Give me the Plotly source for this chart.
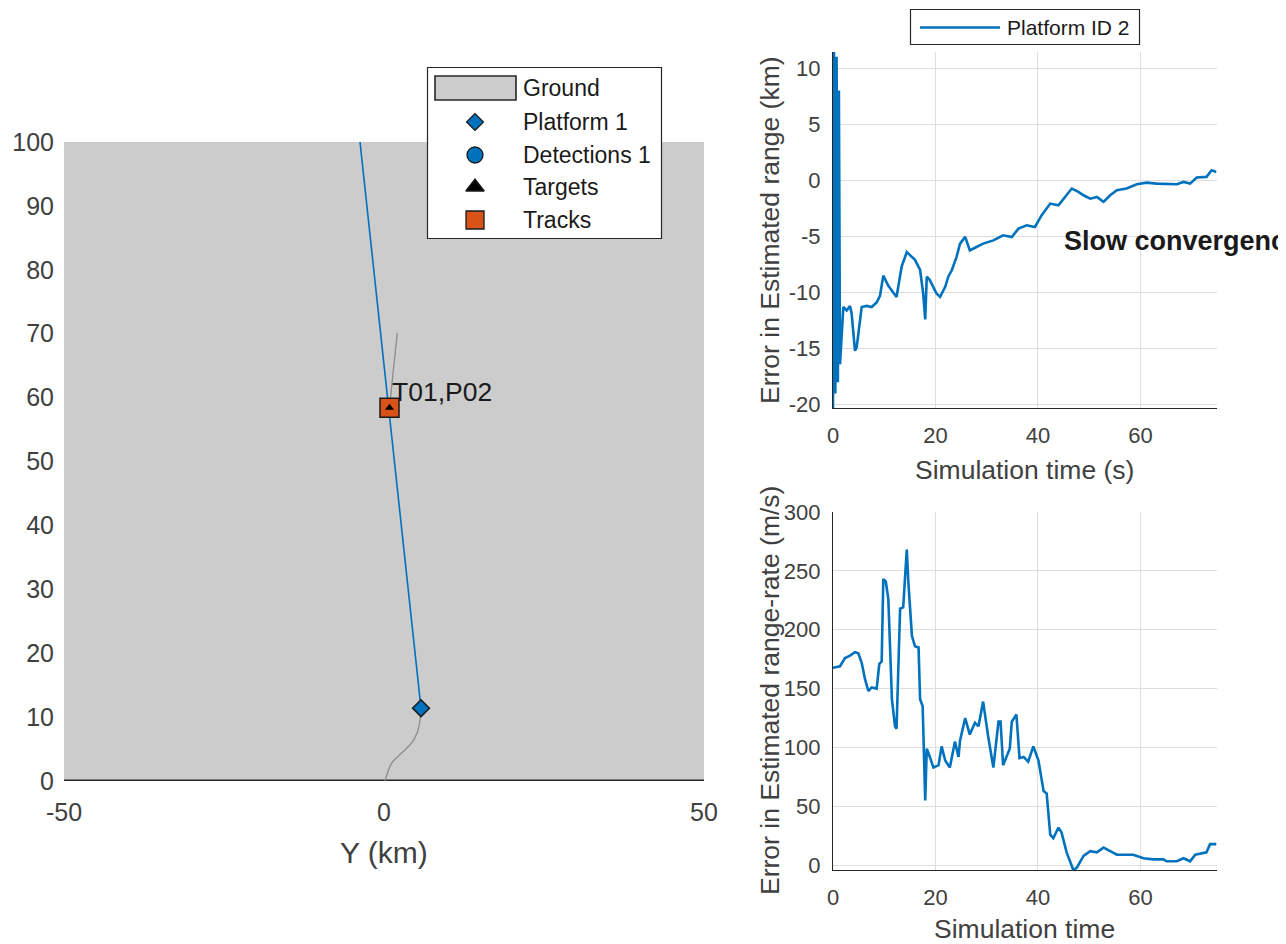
import plotly.graph_objects as go

# ---------------- Left panel: scenario view (km) ----------------
ground_x = [-50, 50, 50, -50, -50]
ground_y = [0, 0, 100, 100, 0]
ground_line_x = [-50, 50]
ground_line_y = [0, 0]
platform_trail_x = [0.16, 1.2, 2.76, 4.33, 5.16, 5.63, 5.78]
platform_trail_y = [0.0, 2.8, 4.38, 5.95, 7.5, 9.55, 11.4]
platform_x = [5.78]
platform_y = [11.4]
ray_x = [5.78, -3.75]
ray_y = [11.4, 100.0]
target_trail_x = [0.86, 1.46, 2.08]
target_trail_y = [58.4, 64.3, 70.1]
target_x = [0.86]
target_y = [58.4]
track_x = [0.86]
track_y = [58.4]
track_label = "T01,P02"
left_xticks = [-50, 0, 50]
left_yticks = [0, 10, 20, 30, 40, 50, 60, 70, 80, 90, 100]

# ---------------- Right top: error in estimated range (km) ----------------
t_range = [0, 0.2, 0.45, 0.7, 0.95, 1.15, 1.37, 2.02, 2.67, 3.32, 3.64, 4.29, 4.62, 5.6, 6.57,
           7.55, 8.52, 9.17, 9.82, 10.8, 12.4, 13.4, 14.4, 16.0, 17.0, 17.6, 18.0, 18.3, 18.9,
           20.2, 20.9, 21.9, 22.5, 23.2, 24.1, 24.8, 25.8, 26.7, 28.0, 29.3, 31.3, 33.2, 34.9,
           36.2, 37.8, 39.4, 40.7, 42.4, 44.0, 45.0, 46.6, 47.9, 48.9, 50.2, 51.5, 52.8, 54.1,
           55.4, 57.3, 59.3, 61.2, 63.2, 65.1, 67.1, 68.4, 69.7, 71.0, 72.9, 73.9, 74.85]
err_range = [-20.3, 11.43, -19.0, 11.0, -18.0, 8.0, -16.4, -11.3, -11.6, -11.2, -11.9, -15.2, -14.9,
             -11.3, -11.2, -11.3, -10.9, -10.3, -8.5, -9.4, -10.4, -7.7, -6.4, -7.1, -8.0, -10.1,
             -12.4, -8.6, -8.9, -10.1, -10.4, -9.5, -8.6, -8.0, -6.85, -5.65, -5.05, -6.25, -5.95,
             -5.65, -5.36, -4.91, -5.06, -4.31, -4.02, -4.17, -3.13, -2.08, -2.23, -1.64, -0.74,
             -1.04, -1.34, -1.64, -1.49, -1.93, -1.34, -0.89, -0.74, -0.36, -0.21, -0.30, -0.30,
             -0.36, -0.15, -0.30, 0.24, 0.30, 0.89, 0.74]
range_yticks = [-20, -15, -10, -5, 0, 5, 10]

# ---------------- Right bottom: error in estimated range-rate (m/s) ----------------
t_rate = [0, 1.37, 2.34, 3.32, 4.29, 4.94, 5.6, 6.25, 6.9, 7.55, 8.52, 9.04, 9.5, 9.82, 10.3,
          10.8, 11.5, 12.1, 12.4, 13.1, 13.7, 14.4, 14.7, 15.4, 16.0, 16.7, 17.0, 17.5, 18.0,
          18.3, 18.9, 19.6, 20.6, 21.2, 21.9, 22.8, 23.8, 24.5, 24.8, 25.8, 26.7, 27.7, 28.4,
          29.3, 30.3, 31.3, 32.3, 32.7, 33.2, 34.5, 34.9, 35.8, 36.4, 37.2, 38.1, 39.1, 40.1,
          41.1, 41.7, 42.4, 43.0, 44.0, 44.6, 45.6, 46.9, 47.6, 48.9, 50.2, 51.5, 52.8, 54.1,
          55.4, 57.3, 58.6, 60.6, 62.5, 64.5, 65.1, 67.1, 68.4, 69.7, 70.7, 72.9, 73.6, 74.85]
err_rate = [167.7, 169, 176, 178, 181, 180, 172, 158, 148, 151, 150, 171, 173, 243, 241, 226, 141,
            118, 116, 218, 219, 268, 241, 195, 186, 185, 141, 135, 55, 99, 92, 83, 85, 101, 89,
            83, 105, 92, 106, 125, 111, 121, 118, 139, 109, 83, 122, 122, 85, 99, 122, 128, 91,
            92, 88, 101, 89, 63, 61, 26, 23, 32, 28, 11, -4, -2, 8, 12, 11, 15, 12, 9, 9, 9, 6,
            5, 5, 3.4, 3.4, 6, 3.4, 9, 11, 18, 18]
rate_yticks = [0, 50, 100, 150, 200, 250, 300]
rate_ymax = 300
time_xticks = [0, 20, 40, 60]

# legend entries
left_legend_names = ["Ground", "Platform 1", "Detections 1", "Targets", "Tracks"]
right_legend_name = "Platform ID 2"

# ---------------- styling ----------------
W, H = 1286, 944
OFF = 8  # page body margin offset (figure drawn at 8,8 in the window)
FONT = "Liberation Sans, Arial, Helvetica, sans-serif"
TXT = "#404040"
BLUE = "#0072BD"
ORANGE = "#D95319"
GRID = "#dedede"
AX = "#262626"
CLEAR = "rgba(0,0,0,0)"


def px_x(p):
    return (p - OFF) / W


def px_y(p):
    return 1 - (p - OFF) / H


def labels(vals):
    return [str(v) for v in vals]


fig = go.Figure()

# Left panel
fig.add_trace(go.Scatter(x=ground_x, y=ground_y, fill="toself", fillcolor="#CCCCCC",
                         line=dict(width=0, color="#CCCCCC"), mode="lines",
                         hoverinfo="skip", showlegend=False, xaxis="x", yaxis="y"))
fig.add_trace(go.Scatter(x=ground_line_x, y=ground_line_y, mode="lines",
                         line=dict(color=AX, width=3), hoverinfo="skip", showlegend=False,
                         xaxis="x", yaxis="y"))
fig.add_trace(go.Scatter(x=platform_trail_x, y=platform_trail_y, mode="lines",
                         line=dict(color="#8c8c8c", width=1.3, shape="spline"),
                         showlegend=False, xaxis="x", yaxis="y"))
fig.add_trace(go.Scatter(x=target_trail_x, y=target_trail_y, mode="lines",
                         line=dict(color="#8c8c8c", width=1.3, shape="spline"),
                         showlegend=False, xaxis="x", yaxis="y"))
fig.add_trace(go.Scatter(x=ray_x, y=ray_y, mode="lines", line=dict(color=BLUE, width=1.6),
                         showlegend=False, xaxis="x", yaxis="y"))
fig.add_trace(go.Scatter(x=track_x, y=track_y, mode="markers",
                         marker=dict(symbol="square", size=19, color=ORANGE,
                                     line=dict(color="#1a1a1a", width=1.5)),
                         showlegend=False, xaxis="x", yaxis="y"))
fig.add_trace(go.Scatter(x=target_x, y=target_y, mode="markers",
                         marker=dict(symbol="triangle-up", size=8, color="black"),
                         showlegend=False, xaxis="x", yaxis="y"))
fig.add_trace(go.Scatter(x=platform_x, y=platform_y, mode="markers",
                         marker=dict(symbol="diamond", size=13, color=BLUE,
                                     line=dict(color="#1a1a1a", width=1.5)),
                         showlegend=False, xaxis="x", yaxis="y"))

# Right top
fig.add_trace(go.Scatter(x=t_range, y=err_range, mode="lines", line=dict(color=BLUE, width=2.6),
                         showlegend=False, xaxis="x2", yaxis="y2"))
# Right bottom
fig.add_trace(go.Scatter(x=t_rate, y=err_rate, mode="lines", line=dict(color=BLUE, width=2.6),
                         showlegend=False, xaxis="x3", yaxis="y3"))

# ---- manual legends on an overlay pixel axis (window pixel coordinates) ----
leg_marker_x = 475
leg_rows = [88, 122, 155, 187, 220]
fig.add_trace(go.Scatter(x=[leg_marker_x] * 4, y=leg_rows[1:], mode="markers",
                         marker=dict(symbol=["diamond", "circle", "triangle-up", "square"],
                                     size=[13, 16, 16, 18],
                                     color=[BLUE, BLUE, "black", ORANGE], opacity=1,
                                     line=dict(color="#1a1a1a", width=1.3)),
                         showlegend=False, hoverinfo="skip", xaxis="x4", yaxis="y4"))

shapes = [
    dict(type="rect", xref="x4", yref="y4", x0=427.5, x1=661.5, y0=67.5, y1=238.5,
         fillcolor="white", line=dict(color="#262626", width=1.2), layer="below"),
    dict(type="rect", xref="x4", yref="y4", x0=435, x1=516, y0=76, y1=100,
         fillcolor="#CCCCCC", line=dict(color="#262626", width=1.6), layer="below"),
    dict(type="rect", xref="x4", yref="y4", x0=910.5, x1=1139.5, y0=9.5, y1=44.5,
         fillcolor="white", line=dict(color="#262626", width=1.2), layer="below"),
    dict(type="line", xref="x4", yref="y4", x0=920, x1=1000, y0=27.5, y1=27.5,
         line=dict(color=BLUE, width=2.5), layer="below"),
]

annotations = []
for name, yrow in zip(left_legend_names, leg_rows):
    annotations.append(dict(xref="x4", yref="y4", x=521, y=yrow, text=name, showarrow=False,
                            xanchor="left", yanchor="middle",
                            font=dict(family=FONT, size=23, color="#1a1a1a")))
annotations.append(dict(xref="x4", yref="y4", x=1005, y=27.5, text=right_legend_name,
                        showarrow=False, xanchor="left", yanchor="middle",
                        font=dict(family=FONT, size=21, color="#1a1a1a")))

# track label
annotations.append(dict(xref="x", yref="y", x=track_x[0], y=track_y[0], text=track_label,
                        showarrow=False, xanchor="left", yanchor="middle", yshift=16,
                        font=dict(family=FONT, size=26.5, color="#1a1a1a")))
# Slow convergence
annotations.append(dict(xref="x2", yref="y2", x=44.6, y=-5.4, text="<b>Slow convergence</b>",
                        showarrow=False, xanchor="left", yanchor="middle",
                        font=dict(family=FONT, size=27, color="#1a1a1a")))

# axis titles
annotations += [
    dict(xref="paper", yref="paper", x=px_x(384), y=px_y(852), text="Y (km)", showarrow=False,
         xanchor="center", yanchor="middle", font=dict(family=FONT, size=30, color=TXT)),
    dict(xref="paper", yref="paper", x=px_x(1024.5), y=px_y(470), text="Simulation time (s)",
         showarrow=False, xanchor="center", yanchor="middle",
         font=dict(family=FONT, size=26.5, color=TXT)),
    dict(xref="paper", yref="paper", x=px_x(1024.5), y=px_y(929), text="Simulation time",
         showarrow=False, xanchor="center", yanchor="middle",
         font=dict(family=FONT, size=26.5, color=TXT)),
    dict(xref="paper", yref="paper", x=px_x(770), y=px_y(230),
         text="Error in Estimated range (km)", textangle=-90, showarrow=False,
         xanchor="center", yanchor="middle", font=dict(family=FONT, size=26.5, color=TXT)),
    dict(xref="paper", yref="paper", x=px_x(770), y=px_y(691),
         text="Error in Estimated range-rate (m/s)", textangle=-90, showarrow=False,
         xanchor="center", yanchor="middle", font=dict(family=FONT, size=26.5, color=TXT)),
]

tickfont_left = dict(family=FONT, size=25, color=TXT)
tickfont_right = dict(family=FONT, size=22, color=TXT)

r_lo, r_hi = min(err_range), max(err_range)
rr_lo = min(err_rate)

fig.update_layout(
    width=W, height=H,
    margin=dict(l=0, r=0, t=0, b=0, pad=0, autoexpand=False),
    paper_bgcolor="white", plot_bgcolor=CLEAR,
    showlegend=False,
    font=dict(family=FONT, color=TXT),
    xaxis=dict(domain=[px_x(64), px_x(704)], range=[-50, 50], tickvals=left_xticks,
               ticktext=labels(left_xticks),
               showgrid=False, zeroline=False, showline=False, ticks="",
               tickfont=tickfont_left, ticklabelstandoff=14, anchor="y"),
    yaxis=dict(domain=[px_y(781), px_y(142)], range=[0, 100], tickvals=left_yticks,
               ticktext=labels(left_yticks),
               showgrid=False, zeroline=False, showline=False, ticks="",
               tickfont=tickfont_left, ticklabelstandoff=9, anchor="x"),
    xaxis2=dict(domain=[px_x(833), px_x(1216.5)], range=[0, max(t_range)], tickvals=time_xticks,
                ticktext=labels(time_xticks),
                showgrid=True, gridcolor=GRID, gridwidth=1, zeroline=False,
                showline=True, linecolor=AX, linewidth=1.2, ticks="",
                tickfont=tickfont_right, ticklabelstandoff=7, anchor="y2"),
    yaxis2=dict(domain=[px_y(408), px_y(52)], range=[r_lo, r_hi], tickvals=range_yticks,
                ticktext=labels(range_yticks),
                showgrid=True, gridcolor=GRID, gridwidth=1, zeroline=False,
                showline=True, linecolor=AX, linewidth=1.2, ticks="",
                tickfont=tickfont_right, ticklabelstandoff=7, anchor="x2"),
    xaxis3=dict(domain=[px_x(833), px_x(1216.5)], range=[0, max(t_rate)], tickvals=time_xticks,
                ticktext=labels(time_xticks),
                showgrid=True, gridcolor=GRID, gridwidth=1, zeroline=False,
                showline=True, linecolor=AX, linewidth=1.2, ticks="",
                tickfont=tickfont_right, ticklabelstandoff=7, anchor="y3"),
    yaxis3=dict(domain=[px_y(870), px_y(512)], range=[rr_lo, rate_ymax],
                tickvals=rate_yticks, ticktext=labels(rate_yticks),
                showgrid=True, gridcolor=GRID, gridwidth=1, zeroline=False,
                showline=True, linecolor=AX, linewidth=1.2, ticks="",
                tickfont=tickfont_right, ticklabelstandoff=7, anchor="x3"),
    xaxis4=dict(domain=[0, 1], range=[OFF, W + OFF], visible=False, fixedrange=True, anchor="y4"),
    yaxis4=dict(domain=[0, 1], range=[H + OFF, OFF], visible=False, fixedrange=True, anchor="x4"),
    shapes=shapes,
    annotations=annotations,
)

fig.write_html("out.html")
